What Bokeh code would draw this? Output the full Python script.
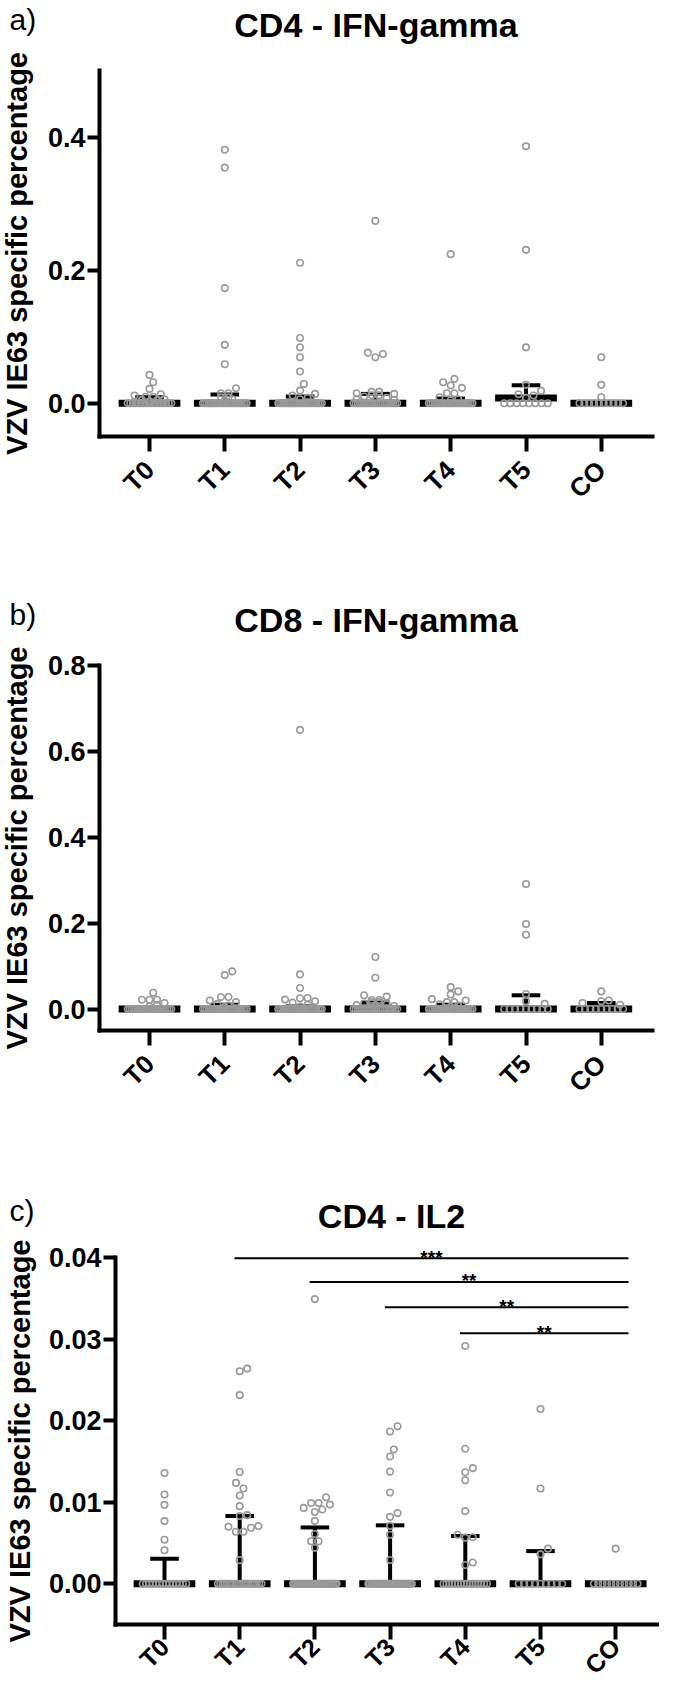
import math
from collections import defaultdict
from bokeh.plotting import figure
from bokeh.models import ColumnDataSource, FixedTicker, NumeralTickFormatter, Range1d
from bokeh.layouts import column
from bokeh.embed import file_html
from bokeh.resources import INLINE
from bokeh.core.properties import value

# ---------------- data ----------------
groups = ["T0", "T1", "T2", "T3", "T4", "T5", "CO"]

# Panel a: CD4 - IFN-gamma (non-zero values per group, and count of zero values)
a_T0 = [0.0426, 0.0316, 0.0215, 0.0135, 0.0115, 0.0098, 0.0098, 0.0060, 0.0050, 0.0040, 0.0030]
a_T1 = [0.381, 0.354, 0.173, 0.0877, 0.0586, 0.0226, 0.0150, 0.0150, 0.0090, 0.0090, 0.0060, 0.0040]
a_T2 = [0.211, 0.098, 0.084, 0.069, 0.0477, 0.029, 0.019, 0.014, 0.0115, 0.008, 0.006]
a_T3 = [0.274, 0.076, 0.074, 0.069, 0.017, 0.017, 0.015, 0.014, 0.012, 0.012, 0.010, 0.008, 0.006, 0.005, 0.004]
a_T4 = [0.224, 0.0366, 0.0316, 0.0266, 0.023, 0.015, 0.015, 0.009, 0.006, 0.004]
a_T5 = [0.386, 0.2305, 0.084, 0.0276, 0.0185, 0.0135, 0.0115, 0.008]
a_CO = [0.069, 0.0276, 0.009]
a_zero_counts = [18, 24, 24, 22, 24, 8, 10]
a_median = [0.0, 0.0, 0.0, 0.0, 0.0, 0.008, 0.0]
a_q3 = [0.009, 0.013, 0.010, 0.014, 0.007, 0.027, 0.0]
a_yticks = [0.0, 0.2, 0.4]

# Panel b: CD8 - IFN-gamma
b_T0 = [0.038, 0.0217, 0.0217, 0.0217, 0.014, 0.010, 0.006]
b_T1 = [0.0876, 0.079, 0.028, 0.028, 0.020, 0.016, 0.012, 0.008, 0.005]
b_T2 = [0.65, 0.0806, 0.0488, 0.0256, 0.025, 0.022, 0.018, 0.015, 0.010, 0.006]
b_T3 = [0.121, 0.073, 0.032, 0.029, 0.021, 0.021, 0.016, 0.016, 0.013, 0.011, 0.009, 0.007, 0.005]
b_T4 = [0.051, 0.041, 0.034, 0.023, 0.020, 0.016, 0.016, 0.011, 0.008, 0.005]
b_T5 = [0.291, 0.198, 0.173, 0.035, 0.018, 0.012]
b_CO = [0.041, 0.020, 0.018, 0.014, 0.010]
b_zero_counts = [24, 24, 24, 22, 24, 9, 9]
b_median = [0.0, 0.0, 0.0, 0.0, 0.0, 0.0, 0.0]
b_q3 = [0.005, 0.010, 0.006, 0.015, 0.010, 0.032, 0.014]
b_yticks = [0.0, 0.2, 0.4, 0.6, 0.8]

# Panel c: CD4 - IL2
c_T0 = [0.01357, 0.01094, 0.00967, 0.00768, 0.0054, 0.0041]
c_T1 = [0.02638, 0.02606, 0.02313, 0.0137, 0.01236, 0.01167, 0.01081, 0.00951, 0.00841, 0.0083,
        0.00707, 0.00699, 0.00687, 0.00638, 0.00638, 0.00289]
c_T2 = [0.0349, 0.0106, 0.0099, 0.0099, 0.0097, 0.0093, 0.0091, 0.0088, 0.0077, 0.0061, 0.0052, 0.0052, 0.0044]
c_T3 = [0.0193, 0.01866, 0.01646, 0.0156, 0.01374, 0.01118, 0.00866, 0.0082, 0.0071, 0.0060, 0.0029]
c_T4 = [0.02915, 0.01655, 0.01418, 0.01366, 0.01268, 0.0089, 0.0060, 0.00565, 0.0057, 0.0026, 0.0023]
c_T5 = [0.02142, 0.01167, 0.0043, 0.0036]
c_CO = [0.0043]
c_zero_counts = [14, 20, 30, 30, 16, 9, 11]
c_median = [0.0, 0.0, 0.0, 0.0, 0.0, 0.0, 0.0]
c_q3 = [0.00305, 0.0083, 0.0069, 0.00716, 0.00585, 0.0040, 0.0]
c_yticks = [0.0, 0.01, 0.02, 0.03, 0.04]

# significance brackets (panel c)
sig_from = [1, 2, 3, 4]
sig_to = [6, 6, 6, 6]
sig_y = [0.0399, 0.0370, 0.0339, 0.0307]
sig_text = ["***", "**", "**", "**"]

# ---------------- style / layout ----------------
FONT = "Liberation Sans"
GRAY = "#999999"
W = 659
PAGE_L = 8


def swarm(vals, yppu, xppu, diam=7.5, maxw=0.29):
    """GraphPad-like scatter layout: returns horizontal offsets (category units)."""
    n = len(vals)
    offs = [0.0] * n
    placed = []
    ties = defaultdict(list)
    for i, v in enumerate(vals):
        ties[v].append(i)
    singles = []
    for grp in sorted(ties.values(), key=lambda g: -len(g)):
        if len(grp) > 1:
            m = len(grp)
            sp = min(diam, 2 * maxw * xppu / (m - 1))
            for k, i in enumerate(grp):
                xo = (k - (m - 1) / 2) * sp
                offs[i] = xo / xppu
                placed.append((xo, vals[i] * yppu))
        else:
            singles.append(grp[0])
    singles.sort(key=lambda i: vals[i])
    step = diam / 2
    maxpx = maxw * xppu
    for i in singles:
        y = vals[i] * yppu
        cands = [0.0]
        k = 1
        while k * step <= maxpx + 1e-9:
            cands += [k * step, -k * step]
            k += 1
        best, fb, fbd = None, 0.0, -1
        for c in cands:
            d = min((math.hypot(c - px, y - py) for px, py in placed), default=1e9)
            if d >= diam * 0.95:
                best = c
                break
            if d > fbd:
                fbd, fb = d, c
        if best is None:
            best = fb
        offs[i] = best / xppu
        placed.append((best, y))
    return offs


def make_panel(g, series, zero_counts, medians, q3s, yticks, fmt, title, letter, sig=False):
    xppu = g["xppu"]
    c0 = g["cat0"]
    x0 = (PAGE_L - c0) / xppu
    x1 = (PAGE_L + W - c0) / xppu
    xl = (g["left"] - c0) / xppu
    xr = (g["right"] - c0) / xppu
    yppu = (g["bottom"] - g["top"]) / (g["ytop"] - g["ybot"])
    y1 = g["ytop"] + (g["top"] - g["fig_top"]) / yppu
    y0 = g["ybot"] - (g["fig_top"] + g["fig_h"] - g["bottom"]) / yppu

    def px2x(px):
        return x0 + (px - PAGE_L) / xppu

    def py2y(py):
        return y1 - (py - g["fig_top"]) / yppu

    p = figure(width=W, height=g["fig_h"], x_range=Range1d(x0, x1), y_range=Range1d(y0, y1),
               output_backend="svg", toolbar_location=None, min_border=0)
    p.outline_line_color = None
    p.xgrid.visible = False
    p.ygrid.visible = False
    p.background_fill_color = "white"
    p.border_fill_color = "white"

    cats = list(range(len(groups)))

    # axes (fixed at the plot-box edges)
    for ax in (p.xaxis[0], p.yaxis[0]):
        ax.axis_line_width = 4
        ax.axis_line_color = "black"
        ax.axis_line_cap = "square"
        ax.major_tick_line_width = 4
        ax.major_tick_line_color = "black"
        ax.major_tick_in = 0
        ax.minor_tick_line_color = None
    p.xaxis.fixed_location = g["ybot"]
    p.xaxis.bounds = (xl, xr)
    p.xaxis.major_tick_out = 15
    p.xaxis.ticker = FixedTicker(ticks=cats)
    p.xaxis.major_label_overrides = {c: name for c, name in zip(cats, groups)}
    p.xaxis.major_label_orientation = math.pi / 4
    p.xaxis.major_label_text_font = FONT
    p.xaxis.major_label_text_font_style = "bold"
    p.xaxis.major_label_text_font_size = g["xlab_size"]
    p.xaxis.major_label_text_color = "black"
    p.xaxis.major_label_standoff = g["xlab_standoff"]

    p.yaxis.fixed_location = xl
    p.yaxis.bounds = (g["ybot"], g["ytop"])
    p.yaxis.major_tick_out = 12
    p.yaxis.ticker = FixedTicker(ticks=yticks)
    p.yaxis.formatter = NumeralTickFormatter(format=fmt)
    p.yaxis.major_label_text_font = FONT
    p.yaxis.major_label_text_font_style = "bold"
    p.yaxis.major_label_text_font_size = "27px"
    p.yaxis.major_label_text_color = "black"
    p.yaxis.major_label_standoff = 2
    p.yaxis.axis_label = "VZV IE63 specific percentage"
    p.yaxis.axis_label_text_font = FONT
    p.yaxis.axis_label_text_font_style = "bold"
    p.yaxis.axis_label_text_font_size = "29px"
    p.yaxis.axis_label_text_color = "black"
    p.yaxis.axis_label_standoff = g["ylab_standoff"]

    # median bars
    med_src = ColumnDataSource(dict(x0=[c - 0.41 for c in cats], x1=[c + 0.41 for c in cats], y=medians))
    p.segment(x0="x0", x1="x1", y0="y", y1="y", source=med_src,
              line_width=7, line_color="black", line_cap="butt")
    # interquartile whiskers (upper part)
    keep = [(c, m, q) for c, m, q in zip(cats, medians, q3s) if q > m]
    w_src = ColumnDataSource(dict(x=[k[0] for k in keep],
                                  xl=[k[0] - 0.19 for k in keep], xr=[k[0] + 0.19 for k in keep],
                                  m=[k[1] for k in keep], q=[k[2] for k in keep]))
    p.segment(x0="x", x1="x", y0="m", y1="q", source=w_src, line_width=4, line_color="black", line_cap="butt")
    p.segment(x0="xl", x1="xr", y0="q", y1="q", source=w_src, line_width=4, line_color="black", line_cap="butt")

    # individual values
    xs, ys = [], []
    for c, nz, zc in zip(cats, series, zero_counts):
        vals = list(nz) + [0.0] * zc
        offs = swarm(vals, yppu, xppu)
        xs += [c + o for o in offs]
        ys += vals
    pt_src = ColumnDataSource(dict(x=xs, y=ys))
    p.scatter(x="x", y="y", source=pt_src, marker="circle", size=6.5,
              fill_color=None, line_color=GRAY, line_width=1.6)

    if sig:
        sx0 = [a - 0.07 for a in sig_from]
        sx1 = [b + 0.17 for b in sig_to]
        s_src = ColumnDataSource(dict(x0=sx0, x1=sx1, y=sig_y,
                                      ty=[v + 1 / yppu for v in sig_y],
                                      tx=[(a + b) / 2 for a, b in zip(sx0, sx1)],
                                      text=sig_text))
        p.segment(x0="x0", x1="x1", y0="y", y1="y", source=s_src, line_width=2, line_color="black")
        p.text(x="tx", y="ty", text="text", source=s_src, text_font=value(FONT), text_font_style="bold",
               text_font_size="19px", text_align="center", text_baseline="alphabetic", text_color="black")

    # title and panel letter
    t_src = ColumnDataSource(dict(x=[px2x(g["title_cx"])], y=[py2y(g["title_base"])], text=[title]))
    p.text(x="x", y="y", text="text", source=t_src, text_font=value(FONT), text_font_style="bold",
           text_font_size="34px", text_align="center", text_baseline="alphabetic", text_color="black")
    l_src = ColumnDataSource(dict(x=[px2x(17)], y=[py2y(g["letter_base"])], text=[letter]))
    p.text(x="x", y="y", text="text", source=l_src, text_font=value(FONT),
           text_font_size="30px", text_align="left", text_baseline="alphabetic", text_color="black")
    return p


GA = dict(fig_top=8, fig_h=548, left=107, right=660, top=78, bottom=444,
          cat0=157, xppu=75.3, ybot=-0.05, ytop=0.5, ylab_standoff=12,
          xlab_standoff=14, xlab_size="26px",
          title_cx=383.5, title_base=32, letter_base=27)
GB = dict(fig_top=556, fig_h=594, left=107, right=660, top=673, bottom=1038,
          cat0=157, xppu=75.3, ybot=-0.05, ytop=0.8, ylab_standoff=12,
          xlab_standoff=14, xlab_size="26px",
          title_cx=383.5, title_base=627, letter_base=622)
GC = dict(fig_top=1150, fig_h=537, left=123, right=666, top=1265, bottom=1632,
          cat0=172, xppu=75.2, ybot=-0.005, ytop=0.04, ylab_standoff=10,
          xlab_standoff=3, xlab_size="25px",
          title_cx=399, title_base=1223, letter_base=1218)

pa = make_panel(GA, [a_T0, a_T1, a_T2, a_T3, a_T4, a_T5, a_CO], a_zero_counts, a_median, a_q3,
                a_yticks, "0.0", "CD4 - IFN-gamma", "a)")
pb = make_panel(GB, [b_T0, b_T1, b_T2, b_T3, b_T4, b_T5, b_CO], b_zero_counts, b_median, b_q3,
                b_yticks, "0.0", "CD8 - IFN-gamma", "b)")
pc = make_panel(GC, [c_T0, c_T1, c_T2, c_T3, c_T4, c_T5, c_CO], c_zero_counts, c_median, c_q3,
                c_yticks, "0.00", "CD4 - IL2", "c)", sig=True)

layout = column(pa, pb, pc, spacing=0)
open("out.html", "w").write(file_html(layout, INLINE))
